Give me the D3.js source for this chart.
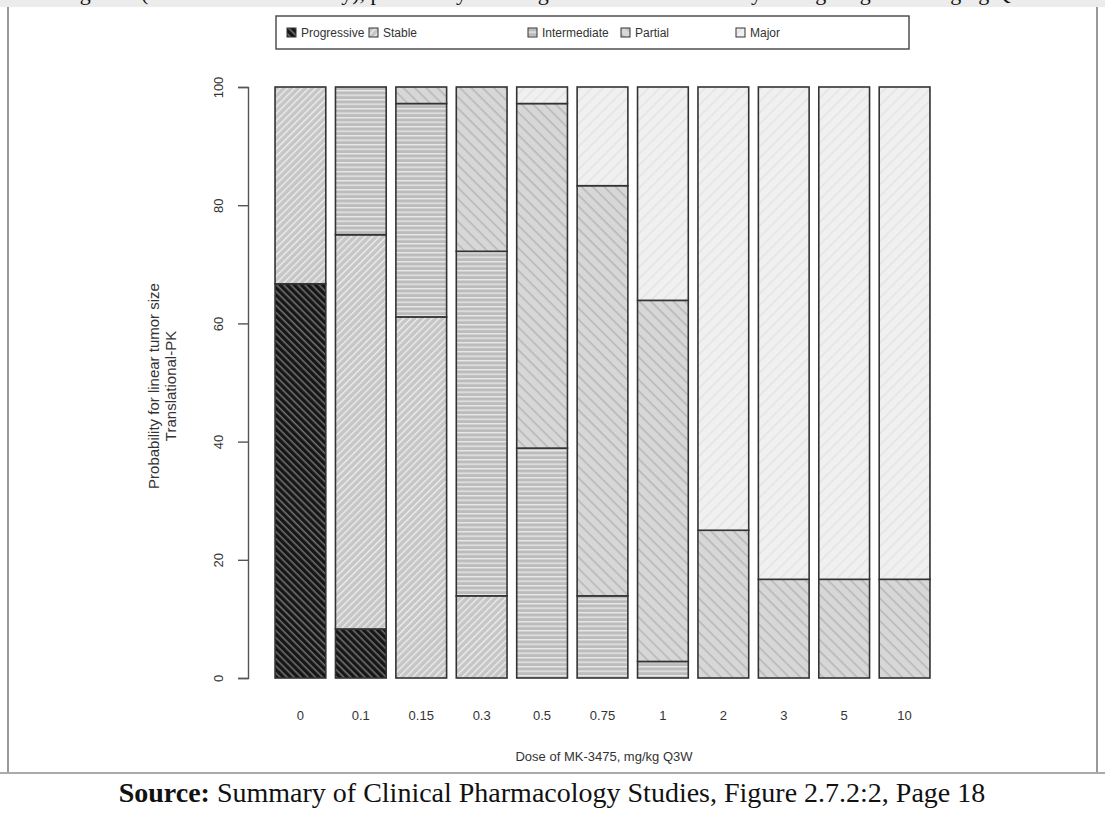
<!DOCTYPE html>
<html>
<head>
<meta charset="utf-8">
<script src="https://cdn.jsdelivr.net/npm/d3@7"></script>
<style>
body { margin:0; background:#fff; }
text { font-family: "Liberation Sans", Arial, sans-serif; fill:#333; }
</style>
</head>
<body>
<script>
// 데이터 : 용량별 반응 확률 (%)
var doses = ["0","0.1","0.15","0.3","0.5","0.75","1","2","3","5","10"];
var categories = ["Progressive","Stable","Intermediate","Partial","Major"];
var progressive  = [66.7, 8.3, 0, 0, 0, 0, 0, 0, 0, 0, 0];
var stable       = [33.3, 66.7, 61.1, 13.9, 0, 0, 0, 0, 0, 0, 0];
var intermediate = [0, 25.0, 36.1, 58.3, 38.9, 13.9, 2.8, 0, 0, 0, 0];
var partial      = [0, 0, 2.8, 27.8, 58.3, 69.4, 61.1, 25.0, 16.7, 16.7, 16.7];
var major        = [0, 0, 0, 0, 2.8, 16.7, 36.1, 75.0, 83.3, 83.3, 83.3];
var yTicks = [0, 20, 40, 60, 80, 100];

var series = [progressive, stable, intermediate, partial, major];
var rows = doses.map(function(d, i){
	var r = {dose: d};
	categories.forEach(function(c, j){ r[c] = series[j][i]; });
	return r;
});

var W = 1105, H = 820;
var svg = d3.select("body").append("svg").attr("width", W).attr("height", H);

// 빗금 패턴 정의 (R의 density/angle 흉내)
var defs = svg.append("defs");
function hatch(id, bg, fg, gap, lw, angle){
	var p = defs.append("pattern").attr("id", id)
		.attr("patternUnits", "userSpaceOnUse")
		.attr("width", gap).attr("height", gap)
		.attr("patternTransform", "rotate(" + angle + ")");
	p.append("rect").attr("width", gap).attr("height", gap).attr("fill", bg);
	p.append("rect").attr("y", 0).attr("width", gap).attr("height", lw).attr("fill", fg);
}
hatch("p0", "#161616", "#6e6e6e", 5, 1.6, 45);
hatch("p1", "#c6c6c6", "#efefef", 5, 1.3, -45);
hatch("p2", "#bcbcbc", "#e8e8e8", 4.5, 1.4, 0);
hatch("p3", "#d7d7d7", "#b8b8b8", 8, 1.6, 45);
hatch("p4", "#f0f0f0", "#e3e3e3", 8, 1.4, -45);
var fills = ["url(#p0)","url(#p1)","url(#p2)","url(#p3)","url(#p4)"];

// 위쪽 잘린 제목 줄 (원본도 잘려 있음)
svg.append("rect").attr("x", 0).attr("y", 0).attr("width", W).attr("height", 7).attr("fill", "#ececec");
svg.append("text").attr("x", 552).attr("y", 0).attr("text-anchor", "middle")
	.style("font-family", "'Liberation Serif', serif").style("font-size", "22px").style("fill", "#111")
	.text("Figure 3 (Translational-PK study), probability of change in linear tumor size by dosing range for imaging Q3W");

// 바깥 테두리
svg.append("line").attr("x1", 8).attr("x2", 8).attr("y1", 7).attr("y2", 773).attr("stroke", "#777").attr("stroke-width", 1.5);
svg.append("line").attr("x1", 1097).attr("x2", 1097).attr("y1", 7).attr("y2", 773).attr("stroke", "#777").attr("stroke-width", 1.5);
svg.append("line").attr("x1", 0).attr("x2", W).attr("y1", 773).attr("y2", 773).attr("stroke", "#aaa").attr("stroke-width", 2);

var x = d3.scaleBand().domain(doses).range([269, 936]).paddingInner(0.16).paddingOuter(0.1);
var y = d3.scaleLinear().domain([0, 100]).range([678, 87]);

var stacked = d3.stack().keys(categories)(rows);

var g = svg.append("g");
stacked.forEach(function(layer, k){
	g.selectAll(".seg" + k)
		.data(layer.filter(function(d){ return d[1] - d[0] > 0; }))
		.enter()
		.append("rect")
		.attr("x", function(d){ return x(d.data.dose); })
		.attr("y", function(d){ return y(d[1]); })
		.attr("width", x.bandwidth())
		.attr("height", function(d){ return y(d[0]) - y(d[1]); })
		.attr("fill", fills[k])
		.attr("stroke", "#333")
		.attr("stroke-width", 1.6);
});

// y 축
var yAxis = svg.append("g").attr("transform", "translate(248,0)")
	.call(d3.axisLeft(y).tickValues(yTicks).tickSize(10).tickPadding(0).tickFormat(function(d){ return d; }));
yAxis.select(".domain").attr("stroke", "#555").attr("stroke-width", 1.4);
yAxis.selectAll(".tick line").attr("stroke", "#555").attr("stroke-width", 1.4);
yAxis.selectAll(".tick text")
	.attr("transform", "translate(-30,0) rotate(-90)")
	.attr("x", 0).attr("dy", "0.35em")
	.attr("text-anchor", "middle")
	.style("font-size", "13px").style("font-family", "'Liberation Sans', Arial, sans-serif").style("fill", "#333");

// x 축 라벨 (선 없음)
svg.selectAll(".xl").data(doses).enter().append("text")
	.attr("x", function(d){ return x(d) + x.bandwidth() / 2; })
	.attr("y", 720)
	.attr("text-anchor", "middle")
	.style("font-size", "13px")
	.text(function(d){ return d; });

svg.append("text").attr("x", 604).attr("y", 761).attr("text-anchor", "middle")
	.style("font-size", "13px").text("Dose of MK-3475, mg/kg Q3W");

svg.append("text").attr("transform", "translate(159,386) rotate(-90)").attr("text-anchor", "middle")
	.style("font-size", "15px").text("Probability for linear tumor size");
svg.append("text").attr("transform", "translate(176,386) rotate(-90)").attr("text-anchor", "middle")
	.style("font-size", "15px").text("Translational-PK");

// 범례
svg.append("rect").attr("x", 276).attr("y", 16).attr("width", 633).attr("height", 33)
	.attr("fill", "#fff").attr("stroke", "#444").attr("stroke-width", 1.4);
var legX = [287, 369, 528, 621, 736];
categories.forEach(function(c, i){
	svg.append("rect").attr("x", legX[i]).attr("y", 28).attr("width", 9).attr("height", 9)
		.attr("fill", fills[i]).attr("stroke", "#333").attr("stroke-width", 1);
	svg.append("text").attr("x", legX[i] + 14).attr("y", 37).style("font-size", "12px").text(c);
});

// 출처
var src = svg.append("text").attr("x", 552).attr("y", 802).attr("text-anchor", "middle")
	.style("font-family", "'Liberation Serif', 'Times New Roman', serif").style("font-size", "28px").style("fill", "#111");
src.append("tspan").style("font-weight", "bold").text("Source:");
src.append("tspan").text(" Summary of Clinical Pharmacology Studies, Figure 2.7.2:2, Page 18");
</script>
</body>
</html>
